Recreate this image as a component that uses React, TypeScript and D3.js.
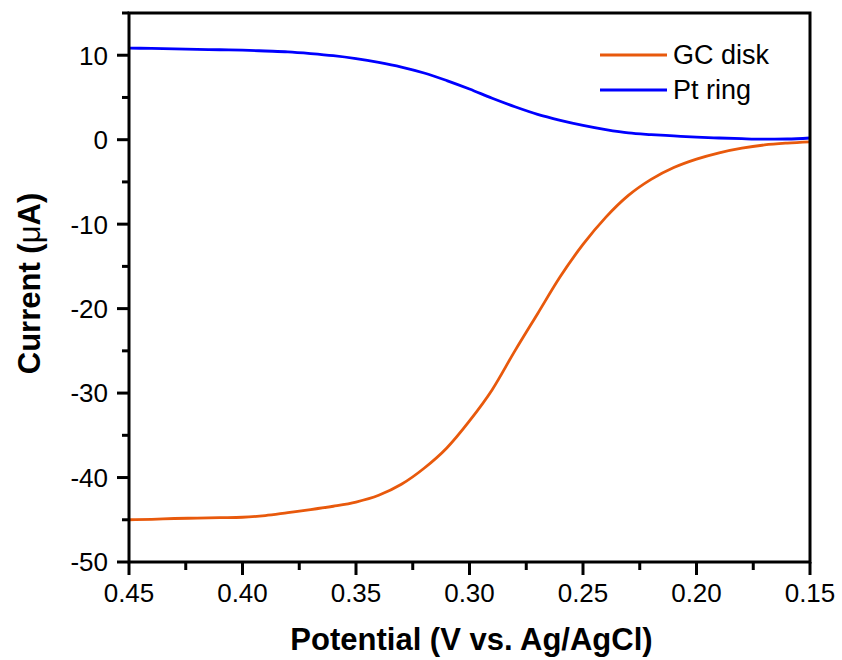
import React from "react";
import * as d3 from "d3";

// Potential sweep (V vs. Ag/AgCl)
const potential = [
  0.45, 0.44, 0.43, 0.42, 0.41, 0.40, 0.39, 0.38, 0.37, 0.36, 0.35, 0.34, 0.33, 0.32, 0.31,
  0.30, 0.29, 0.28, 0.27, 0.26, 0.25, 0.24, 0.23, 0.22, 0.21, 0.20, 0.19, 0.18, 0.17, 0.16, 0.15,
];

// Disk current (µA)
const gcDisk = [
  -45.0, -44.95, -44.85, -44.8, -44.75, -44.7, -44.5, -44.15, -43.8, -43.4, -42.9, -42.1, -40.8, -38.9, -36.5,
  -33.3, -29.6, -25.0, -20.6, -16.2, -12.4, -9.2, -6.6, -4.7, -3.3, -2.3, -1.55, -1.0, -0.62, -0.4, -0.25,
];

// Ring current (µA)
const ptRing = [
  10.85, 10.8, 10.75, 10.7, 10.65, 10.6, 10.5, 10.4, 10.2, 9.95, 9.6, 9.15, 8.6, 7.9, 7.0,
  6.0, 4.9, 3.9, 3.0, 2.3, 1.7, 1.2, 0.8, 0.6, 0.45, 0.3, 0.2, 0.12, 0.07, 0.08, 0.2,
];

const xMajorTicks = [0.45, 0.4, 0.35, 0.3, 0.25, 0.2, 0.15];
const xMinorTicks = [0.425, 0.375, 0.325, 0.275, 0.225, 0.175];
const yMajorTicks = [-50, -40, -30, -20, -10, 0, 10];
const yMinorTicks = [-45, -35, -25, -15, -5, 5, 15];

const seriesNames = ["GC disk", "Pt ring"];
const seriesColors = ["#E8590C", "#0000FF"];

const W = 842;
const H = 660;
const left = 129;
const right = 810;
const top = 13;
const bottom = 562;
const FONT = "Liberation Sans, Arial, Helvetica, sans-serif";

export default function App() {
  const x = d3.scaleLinear().domain([0.45, 0.15]).range([left, right]);
  const y = d3.scaleLinear().domain([-50, 15]).range([bottom, top]);

  const line = d3
    .line<number>()
    .x((_, i) => x(potential[i]))
    .y((d) => y(d))
    .curve(d3.curveMonotoneX);

  const series = [gcDisk, ptRing];

  return (
    <svg
      width={W}
      height={H}
      style={{ position: "absolute", left: 0, top: 0, background: "#fff" }}
      fontFamily={FONT}
    >
      <rect width={W} height={H} fill="#fff" />

      {/* curves */}
      {series.map((s, k) => (
        <path key={k} d={line(s) || ""} fill="none" stroke={seriesColors[k]} strokeWidth={2.8} />
      ))}

      {/* frame */}
      <rect
        x={left}
        y={top}
        width={right - left}
        height={bottom - top}
        fill="none"
        stroke="#000"
        strokeWidth={3}
      />

      {/* x ticks */}
      {xMajorTicks.map((t) => (
        <g key={"xM" + t}>
          <line x1={x(t)} x2={x(t)} y1={bottom} y2={bottom + 13} stroke="#000" strokeWidth={3} />
          <text x={x(t)} y={602} textAnchor="middle" fontSize={26} fill="#000">
            {t.toFixed(2)}
          </text>
        </g>
      ))}
      {xMinorTicks.map((t) => (
        <line key={"xm" + t} x1={x(t)} x2={x(t)} y1={bottom} y2={bottom + 8} stroke="#000" strokeWidth={3} />
      ))}

      {/* y ticks */}
      {yMajorTicks.map((t) => (
        <g key={"yM" + t}>
          <line x1={left - 12} x2={left} y1={y(t)} y2={y(t)} stroke="#000" strokeWidth={3} />
          <text x={108} y={y(t)} dy="0.36em" textAnchor="end" fontSize={26} fill="#000">
            {t < 0 ? "-" + Math.abs(t) : String(t)}
          </text>
        </g>
      ))}
      {yMinorTicks.map((t) => (
        <line key={"ym" + t} x1={left - 7} x2={left} y1={y(t)} y2={y(t)} stroke="#000" strokeWidth={3} />
      ))}

      {/* axis titles */}
      <text x={(left + right) / 2 + 2} y={650} textAnchor="middle" fontSize={31} fontWeight="bold" fill="#000">
        Potential (V vs. Ag/AgCl)
      </text>
      <text
        transform={`translate(40, ${(top + bottom) / 2 - 4}) rotate(-90)`}
        textAnchor="middle"
        fontSize={31}
        fontWeight="bold"
        fill="#000"
      >
        Current (<tspan fontWeight="normal">μ</tspan>A)
      </text>

      {/* legend */}
      {seriesNames.map((name, k) => (
        <g key={name} transform={`translate(600, ${55 + k * 35})`}>
          <line x1={0} x2={67} y1={0} y2={0} stroke={seriesColors[k]} strokeWidth={3} />
          <text x={73} y={9} fontSize={27} fill="#000">
            {name}
          </text>
        </g>
      ))}
    </svg>
  );
}
